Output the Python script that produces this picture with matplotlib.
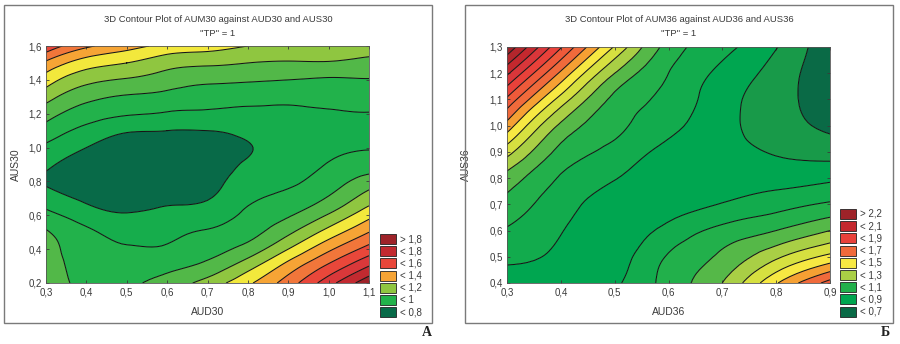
import numpy as np
import matplotlib
matplotlib.use('Agg')
import matplotlib.pyplot as plt
import matplotlib.tri as mtri
from matplotlib.patches import Rectangle

plt.rcParams['font.family'] = ['Liberation Sans', 'DejaVu Sans']

# ---------------- Panel A data ----------------
a_x = [0.3, 0.4, 0.5, 0.6, 0.7, 0.8, 0.9, 1.0, 1.1]
a_y = [0.2, 0.3, 0.4, 0.5, 0.6, 0.7, 0.8, 0.9, 1.0, 1.1, 1.2, 1.3, 1.4, 1.5, 1.6]
a_z = [
    [1.07, 0.97, 0.98, 1.04, 1.14, 1.28, 1.45, 1.66, 1.87],
    [1.05, 0.96, 0.95, 0.97, 1.03, 1.16, 1.34, 1.52, 1.70],
    [1.03, 0.95, 0.91, 0.91, 0.96, 1.04, 1.20, 1.38, 1.54],
    [1.01, 0.92, 0.87, 0.88, 0.91, 0.96, 1.08, 1.24, 1.40],
    [0.93, 0.85, 0.81, 0.83, 0.85, 0.92, 0.99, 1.11, 1.27],
    [0.85, 0.78, 0.75, 0.78, 0.795, 0.88, 0.93, 1.01, 1.15],
    [0.79, 0.74, 0.72, 0.745, 0.77, 0.84, 0.88, 0.95, 1.05],
    [0.82, 0.75, 0.72, 0.74, 0.765, 0.81, 0.85, 0.905, 0.94],
    [0.88, 0.80, 0.75, 0.76, 0.77, 0.795, 0.84, 0.88, 0.895],
    [0.96, 0.87, 0.81, 0.80, 0.80, 0.82, 0.84, 0.865, 0.865],
    [1.04, 0.95, 0.91, 0.89, 0.88, 0.87, 0.87, 0.885, 0.895],
    [1.14, 1.03, 0.99, 0.97, 0.95, 0.94, 0.93, 0.94, 0.95],
    [1.25, 1.13, 1.09, 1.05, 1.02, 1.01, 1.00, 0.99, 0.995],
    [1.38, 1.25, 1.20, 1.14, 1.12, 1.10, 1.09, 1.09, 1.07],
    [1.58, 1.42, 1.34, 1.27, 1.24, 1.20, 1.18, 1.18, 1.15],
]
a_levels = [0.8, 0.9, 1.0, 1.1, 1.2, 1.3, 1.4, 1.5, 1.6, 1.7, 1.8]
a_band_colors = ['#086a48', '#16ad4c', '#22b24b', '#52b848', '#8fc640', '#f2e83c',
                 '#f6a435', '#f1763a', '#e9473a', '#d9383a', '#c22a30', '#9e2329']
a_legend_labels = ['> 1,8', '< 1,8', '< 1,6', '< 1,4', '< 1,2', '< 1', '< 0,8']
a_legend_colors = ['#9e2329', '#c22a30', '#e9473a', '#f6a435', '#8fc640', '#22b24b', '#086a48']
a_xticks = [0.3, 0.4, 0.5, 0.6, 0.7, 0.8, 0.9, 1.0, 1.1]
a_xticklabels = ['0,3', '0,4', '0,5', '0,6', '0,7', '0,8', '0,9', '1,0', '1,1']
a_yticks = [0.2, 0.4, 0.6, 0.8, 1.0, 1.2, 1.4, 1.6]
a_yticklabels = ['0,2', '0,4', '0,6', '0,8', '1,0', '1,2', '1,4', '1,6']
a_title = '3D Contour Plot of AUM30 against AUD30 and AUS30'
a_xlabel = 'AUD30'
a_ylabel = 'AUS30'

# ---------------- Panel Б data ----------------
b_x = [0.3, 0.4, 0.5, 0.6, 0.7, 0.8, 0.9]
b_y = [0.4, 0.5, 0.6, 0.7, 0.8, 0.9, 1.0, 1.1, 1.2, 1.3]
b_z = [
    [0.86, 0.86, 0.885, 1.04, 1.20, 1.49, 1.74],
    [0.92, 0.88, 0.86, 1.01, 1.12, 1.28, 1.43],
    [0.99, 0.905, 0.85, 0.93, 1.03, 1.10, 1.20],
    [1.065, 0.94, 0.86, 0.86, 0.905, 0.96, 1.015],
    [1.16, 0.99, 0.905, 0.84, 0.86, 0.86, 0.88],
    [1.34, 1.07, 0.97, 0.87, 0.835, 0.79, 0.76],
    [1.56, 1.18, 1.025, 0.93, 0.83, 0.745, 0.68],
    [1.78, 1.36, 1.075, 0.97, 0.84, 0.74, 0.64],
    [2.02, 1.58, 1.20, 1.00, 0.875, 0.76, 0.62],
    [2.28, 1.81, 1.39, 1.06, 0.93, 0.805, 0.62],
]
b_levels = [0.7, 0.8, 0.9, 1.0, 1.1, 1.2, 1.3, 1.4, 1.5, 1.6, 1.7, 1.8, 1.9, 2.0, 2.1, 2.2]
b_band_colors = ['#0a6a46', '#189a49', '#00a650', '#12ab4d', '#22b04b', '#55b848',
                 '#a9cf45', '#d6e040', '#f7e842', '#f5a033', '#f06a3b', '#ee5a3a',
                 '#e9413a', '#d9363a', '#c4282e', '#b3262c', '#9e2329']
b_legend_labels = ['> 2,2', '< 2,1', '< 1,9', '< 1,7', '< 1,5', '< 1,3', '< 1,1', '< 0,9', '< 0,7']
b_legend_colors = ['#9e2329', '#c4282e', '#e9413a', '#f06a3b', '#f7e842', '#a9cf45',
                   '#22b04b', '#00a650', '#0a6a46']
b_xticks = [0.3, 0.4, 0.5, 0.6, 0.7, 0.8, 0.9]
b_xticklabels = ['0,3', '0,4', '0,5', '0,6', '0,7', '0,8', '0,9']
b_yticks = [0.4, 0.5, 0.6, 0.7, 0.8, 0.9, 1.0, 1.1, 1.2, 1.3]
b_yticklabels = ['0,4', '0,5', '0,6', '0,7', '0,8', '0,9', '1,0', '1,1', '1,2', '1,3']
b_title = '3D Contour Plot of AUM36 against AUD36 and AUS36'
b_xlabel = 'AUD36'
b_ylabel = 'AUS36'

subtitle = '"TP" = 1'
panel_letters = ['A', 'Б']

W, H = 900, 344
fig = plt.figure(figsize=(W / 100, H / 100), dpi=100)
fig.patch.set_facecolor('white')


def fx(px):
    return px / W


def fy(py):
    return 1 - py / H


TXT = '#3a3a3a'


def panel(box, axrect, x, y, z, levels, band_colors, leg_labels, leg_colors,
          xticks, xtl, yticks, ytl, title, xlabel, ylabel, leg_x, leg_y0, letter, letter_x):
    bx0, by0, bx1, by1 = box
    fig.add_artist(Rectangle((fx(bx0), fy(by1)), fx(bx1) - fx(bx0), fy(by0) - fy(by1),
                             transform=fig.transFigure, fill=False, ec='#7a7a7a', lw=1.0))
    ax0, ay0, ax1, ay1 = axrect
    ax = fig.add_axes([fx(ax0), fy(ay1), fx(ax1) - fx(ax0), fy(ay0) - fy(ay1)])
    X, Y = np.meshgrid(np.array(x), np.array(y))
    Z = np.array(z)
    tri = mtri.Triangulation(X.ravel(), Y.ravel())
    refiner = mtri.UniformTriRefiner(tri)
    tri_f, z_f = refiner.refine_field(Z.ravel(), subdiv=3)
    full = [-10.0] + list(levels) + [10.0]
    ax.tricontourf(tri_f, z_f, levels=full, colors=band_colors, antialiased=True)
    ax.tricontour(tri_f, z_f, levels=levels, colors='#151515', linewidths=0.75)
    ax.set_xlim(x[0], x[-1])
    ax.set_ylim(y[0], y[-1])
    ax.set_xticks(xticks)
    ax.set_xticklabels(xtl)
    ax.set_yticks(yticks)
    ax.set_yticklabels(ytl)
    ax.tick_params(axis='both', labelsize=7, colors=TXT, direction='in', length=2.5,
                   width=0.6, top=True, right=True, pad=3)
    for s in ax.spines.values():
        s.set_linewidth(0.6)
        s.set_color('#555555')
    ax.set_xlabel(xlabel, fontsize=7.5, color=TXT)
    ax.xaxis.set_label_coords(0.5, -(312 - ay1) / (ay1 - ay0))
    ax.xaxis.label.set_va('center')
    ax.set_ylabel(ylabel, fontsize=7.5, color=TXT)
    ax.yaxis.set_label_coords((16 + (0 if ax0 < 450 else 450) - ax0) / (ax1 - ax0), 0.5)
    ax.yaxis.label.set_va('center')
    cx = (bx0 + bx1) / 2
    fig.text(fx(cx), fy(19), title, ha='center', va='center', fontsize=6.8, color=TXT)
    fig.text(fx(cx), fy(33), subtitle, ha='center', va='center', fontsize=6.8, color=TXT)
    for i, (lab, col) in enumerate(zip(leg_labels, leg_colors)):
        yc = leg_y0 + i * 12.2
        fig.add_artist(Rectangle((fx(leg_x), fy(yc + 5)), 16 / W, 10 / H,
                                 transform=fig.transFigure, fc=col, ec='#222222', lw=0.6))
        fig.text(fx(leg_x + 20), fy(yc), lab, ha='left', va='center', fontsize=7, color=TXT)
    fig.text(fx(letter_x), fy(333), letter, ha='center', va='center', fontsize=10,
             fontweight='bold', family=['Liberation Serif', 'DejaVu Serif'], color='#222222')
    return ax


panel((4, 5, 432, 323), (46, 46, 369, 283), a_x, a_y, a_z, a_levels, a_band_colors,
      a_legend_labels, a_legend_colors, a_xticks, a_xticklabels, a_yticks, a_yticklabels,
      a_title, a_xlabel, a_ylabel, 380, 239, panel_letters[0], 427)
panel((465, 5, 893, 323), (507, 47, 830, 283), b_x, b_y, b_z, b_levels, b_band_colors,
      b_legend_labels, b_legend_colors, b_xticks, b_xticklabels, b_yticks, b_yticklabels,
      b_title, b_xlabel, b_ylabel, 840, 214, panel_letters[1], 885)

fig.savefig('out.png', dpi=100, facecolor='white')
